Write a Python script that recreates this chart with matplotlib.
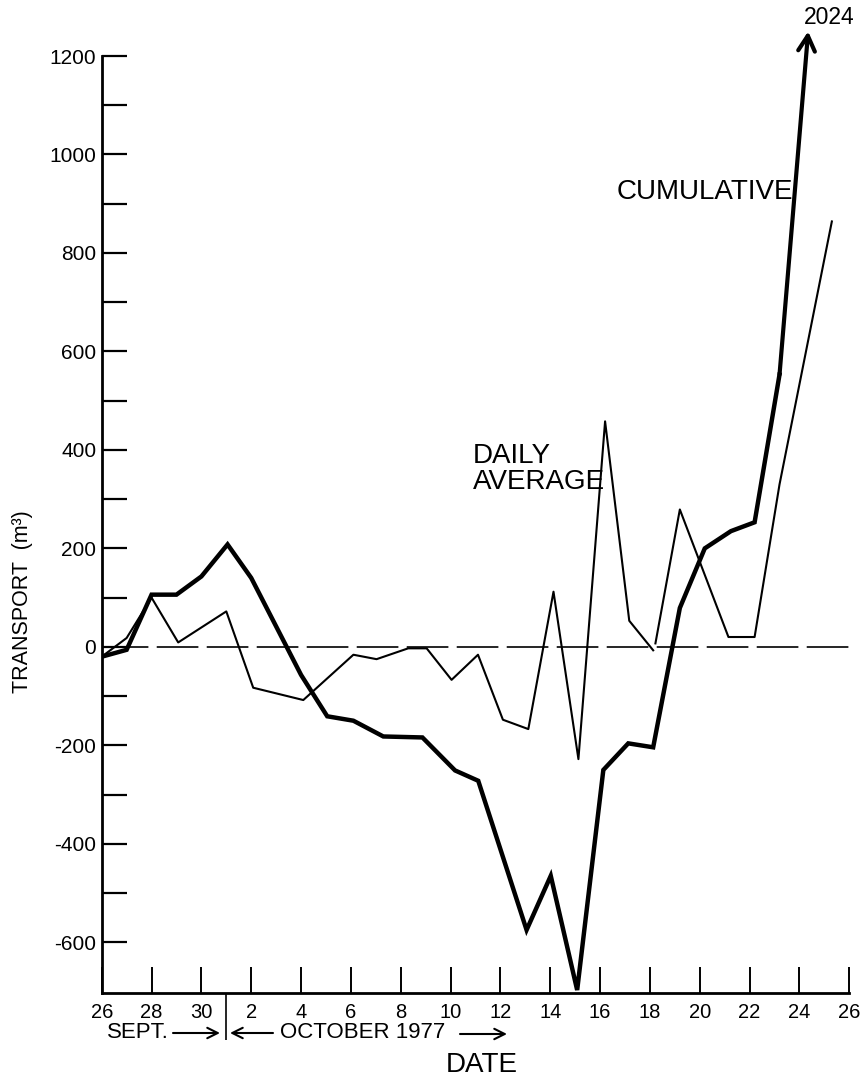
import matplotlib
matplotlib.use("Agg")
import matplotlib.pyplot as plt
import numpy as np

plt.rcParams['font.family'] = ['Liberation Sans', 'DejaVu Sans']
plt.rcParams['axes.unicode_minus'] = False
plt.rcParams['lines.scale_dashes'] = False

# ---- data (day index: 0 = 26 Sept, 5 = 1 Oct, 30 = 26 Oct) ----
cum_x = [0, 1, 2, 3, 4, 5.05, 6, 8, 9.05, 10.1, 11.3, 12.87, 14.18, 15.11,
         17.05, 18.02, 19.08, 20.13, 21.13, 22.13, 23.2, 24.2, 25.25, 26.2, 27.2]
cum_y = [-20, -6, 106, 106, 143, 208, 140, -57, -141, -150, -182, -184, -251, -272,
         -575, -465, -697, -250, -196, -204, 79, 200, 235, 253, 553]
cum_tip_x = 28.35
cum_tip_y = 1250
cum_tip_label = "2024"

daily_a_x = [0, 1, 2, 3.07, 5, 6.08, 8.09, 10.1, 11.03, 12.3, 13.04, 14.04,
             15.1, 16.1, 17.12, 18.13, 19.13, 20.2, 21.17, 22.13]
daily_a_y = [-20, 18, 100, 9, 72, -83, -108, -16, -25, -3, -3, -67,
             -16, -148, -167, 112, -228, 458, 53, -7]
daily_b_x = [22.22, 23.2, 25.15, 26.2, 27.2, 29.3]
daily_b_y = [7, 279, 20, 20, 330, 864]

x_tick_pos = list(range(0, 31, 2))
x_tick_labels = ['26', '28', '30', '2', '4', '6', '8', '10', '12', '14', '16',
                 '18', '20', '22', '24', '26']
month_break = 5
y_major = list(range(-600, 1201, 200))
y_minor = list(range(-500, 1101, 200))

W, H = 866, 1083
fig = plt.figure(figsize=(W / 100, H / 100), dpi=100)
ax = fig.add_axes([101.7 / W, 90 / H, 747.6 / W, 937 / H])
ax.set_xlim(0, 30)
ax.set_ylim(-703, 1200)

for s in ['top', 'right']:
    ax.spines[s].set_visible(False)
for s in ['left', 'bottom']:
    ax.spines[s].set_linewidth(2.0)

ax.axhline(0, color='black', lw=1.2, linestyle=(32.6, (30, 6)), zorder=1)

ax.plot(cum_x, cum_y, color='black', lw=3.2, solid_joinstyle='miter', zorder=3)
ax.annotate('', xy=(cum_tip_x, cum_tip_y), xytext=(cum_x[-1], cum_y[-1]),
            arrowprops=dict(arrowstyle='->,head_length=0.55,head_width=0.3',
                            mutation_scale=20, lw=3.0, color='black',
                            shrinkA=0, shrinkB=0),
            annotation_clip=False)
ax.plot(daily_a_x, daily_a_y, color='black', lw=1.5, zorder=2)
ax.plot(daily_b_x, daily_b_y, color='black', lw=1.5, zorder=2, clip_on=False)

ax.set_xticks(x_tick_pos)
ax.set_xticklabels(x_tick_labels)
ax.set_xticks([month_break], minor=True)
ax.set_yticks(y_major)
ax.set_yticks(y_minor, minor=True)
ax.set_yticklabels([str(v) for v in y_major])

ax.tick_params(axis='x', which='major', direction='in', length=19, width=1.4,
               labelsize=14.5, pad=7)
ax.tick_params(axis='x', which='minor', direction='out', length=34, width=1.2)
ax.tick_params(axis='y', which='both', direction='in', length=18, width=1.6,
               labelsize=15, pad=4)

ax.text(cum_tip_x + 0.85, cum_tip_y + 28, cum_tip_label, fontsize=16.5,
        ha='center', va='center', clip_on=False)
ax.text(20.68, 924, 'CUMULATIVE', fontsize=20,
        family=['Liberation Sans Narrow', 'Liberation Sans'], ha='left', va='center')
ax.text(14.89, 388, 'DAILY', fontsize=20,
        family=['Liberation Sans Narrow', 'Liberation Sans'], ha='left', va='center')
ax.text(14.89, 334, 'AVERAGE', fontsize=20,
        family=['Liberation Sans Narrow', 'Liberation Sans'], ha='left', va='center')

fig.text(23 / W, 1 - 602 / H, 'TRANSPORT  (m³)', rotation=90, fontsize=15.5,
         ha='center', va='center')

# month labels below the axis
fig.text(106.7 / W, 1 - 1033 / H, 'SEPT.', fontsize=16, ha='left', va='center')
fig.text(280 / W, 1 - 1033 / H, 'OCTOBER 1977', fontsize=16, ha='left', va='center')
arrow_kw = dict(arrowstyle='->,head_length=0.5,head_width=0.25', mutation_scale=15,
                lw=1.5, color='black', shrinkA=0, shrinkB=0)
fig.add_artist(matplotlib.patches.FancyArrowPatch((173 / W, 1 - 1033 / H), (220 / W, 1 - 1033 / H),
               transform=fig.transFigure, **arrow_kw))
fig.add_artist(matplotlib.patches.FancyArrowPatch((273 / W, 1 - 1033 / H), (230 / W, 1 - 1033 / H),
               transform=fig.transFigure, **arrow_kw))
fig.add_artist(matplotlib.patches.FancyArrowPatch((460 / W, 1 - 1034 / H), (507 / W, 1 - 1034 / H),
               transform=fig.transFigure, **arrow_kw))
fig.text(482 / W, 1 - 1065 / H, 'DATE', fontsize=20, ha='center', va='center')

fig.savefig('out.png', dpi=100)
